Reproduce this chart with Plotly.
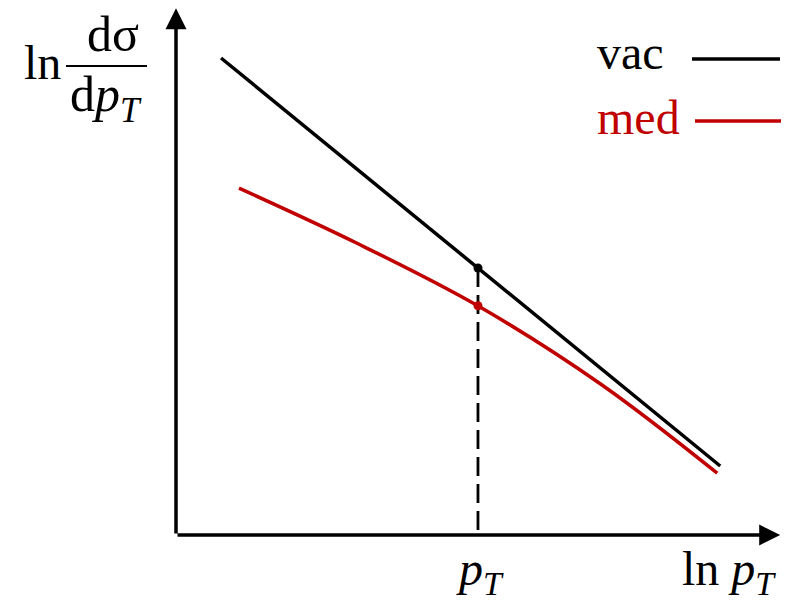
import plotly.graph_objects as go

# Schematic spectrum: ln(dσ/dpT) versus ln pT, vacuum vs medium
ln_pt_vac = [0.75, 9.07]
vac = [7.95, 1.15]

ln_pt_med = [1.05, 3.00, 5.03, 7.10, 9.02]
med = [5.78, 4.87, 3.82, 2.50, 1.03]

# chosen pT and the two spectra evaluated there
pt_mark = 5.033
vac_at_mark = 4.45
med_at_mark = 3.82

x_axis_end = 10.07
y_axis_end = 8.78

W, H = 789, 601
BLACK = "#000000"
RED = "#C00000"
SERIF = "Liberation Serif"
FS = 48


def px(x, y):
    """pixel position -> paper coordinates"""
    return x / W, 1 - y / H


fig = go.Figure()

fig.add_trace(go.Scatter(x=ln_pt_vac, y=vac, mode="lines",
                         line=dict(color=BLACK, width=3.5), hoverinfo="skip"))
fig.add_trace(go.Scatter(x=ln_pt_med, y=med, mode="lines",
                         line=dict(color=RED, width=3.5, shape="spline", smoothing=1.0),
                         hoverinfo="skip"))

# dashed drop line from the vacuum point to the axis
fig.add_trace(go.Scatter(x=[pt_mark, pt_mark], y=[vac_at_mark, 0], mode="lines",
                         line=dict(color=BLACK, width=2.8, dash="19px,8px"),
                         hoverinfo="skip"))
fig.add_trace(go.Scatter(x=[pt_mark], y=[vac_at_mark], mode="markers",
                         marker=dict(color=BLACK, size=9), hoverinfo="skip"))
fig.add_trace(go.Scatter(x=[pt_mark], y=[med_at_mark], mode="markers",
                         marker=dict(color=RED, size=9), hoverinfo="skip"))

annotations = []
# axes with arrow heads
annotations.append(dict(x=x_axis_end, y=0, ax=0, ay=0, xref="x", yref="y",
                        axref="x", ayref="y", showarrow=True, arrowhead=2,
                        arrowsize=1.2, arrowwidth=3.5, arrowcolor=BLACK, text=""))
annotations.append(dict(x=0, y=y_axis_end, ax=0, ay=0, xref="x", yref="y",
                        axref="x", ayref="y", showarrow=True, arrowhead=2,
                        arrowsize=1.2, arrowwidth=3.5, arrowcolor=BLACK, text=""))


def label(text, x, y, color=BLACK, xanchor="center", size=FS):
    fx, fy = px(x, y)
    annotations.append(dict(x=fx, y=fy, xref="paper", yref="paper", text=text,
                            showarrow=False, xanchor=xanchor, yanchor="middle",
                            font=dict(family=SERIF, size=size, color=color)))


# axis titles
label("ln", 42, 62)
label("dσ", 113, 34, size=50)
label("d<i>p</i><sub><i>T</i></sub>", 106, 98, size=50)
label("ln <i>p</i><sub><i>T</i></sub>", 778, 572, xanchor="right")
label("<i>p</i><sub><i>T</i></sub>", 480, 572)

# legend entries
label("vac", 666, 52, xanchor="right")
label("med", 682, 117, color=RED, xanchor="right")

shapes = []
fx0, fy0 = px(66, 66)
fx1, _ = px(147, 66)
shapes.append(dict(type="line", xref="paper", yref="paper", x0=fx0, x1=fx1,
                   y0=fy0, y1=fy0, line=dict(color=BLACK, width=2.2)))
for (x0, x1, y, c) in [(692, 780, 59, BLACK), (695, 781, 121, RED)]:
    a, b = px(x0, y)
    c1, _ = px(x1, y)
    shapes.append(dict(type="line", xref="paper", yref="paper", x0=a, x1=c1,
                       y0=b, y1=b, line=dict(color=c, width=3.5)))

fig.update_layout(
    width=W, height=H,
    margin=dict(l=0, r=0, t=0, b=0),
    paper_bgcolor="white", plot_bgcolor="white",
    showlegend=False,
    xaxis=dict(range=[-176 / 60, (W - 176) / 60], visible=False, fixedrange=True),
    yaxis=dict(range=[(535 - H) / 60, 535 / 60], visible=False, fixedrange=True),
    annotations=annotations,
    shapes=shapes,
)

fig.write_html("out.html")
